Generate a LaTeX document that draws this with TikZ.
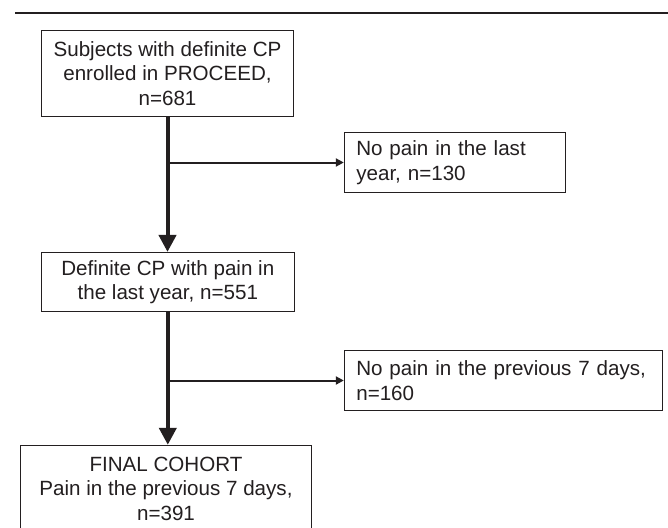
\documentclass[tikz,border=0pt]{standalone}
\usepackage{fontspec}
\setmainfont{Liberation Sans}
\usetikzlibrary{arrows.meta}
\definecolor{ink}{HTML}{231F20}
\begin{document}
\begin{tikzpicture}[x=1pt,y=-1pt,
  box/.style={draw=ink, line width=1pt, fill=white, inner ysep=0pt,
    text=ink, font=\fontsize{20.6}{24.5}\selectfont},
  cbox/.style={box, align=center, inner xsep=0pt},
  lbox/.style={box, align=left, inner xsep=12pt},
  mainarrow/.style={draw=ink, line width=4pt, -{Triangle[width=17pt,length=17pt]}},
  sidearrow/.style={draw=ink, line width=2pt, -{Triangle[width=8pt,length=8pt]}},
  rule/.style={draw=ink, line width=2.5pt}]
\useasboundingbox (0,0) rectangle (668,527);
\clip (0,0) rectangle (668,527);
\fill[white] (0,0) rectangle (668,527);
% top rule
\coordinate (ruleL) at (15,13);
\coordinate (ruleR) at (668,13);
\draw[rule] (ruleL) -- (ruleR);
% boxes
\node[cbox, minimum width=252pt, minimum height=85.3pt] (b1) at (167.5,73.4)
  {Subjects with definite CP\\enrolled in PROCEED,\\n=681};
\node[cbox, minimum width=253pt, minimum height=59.5pt] (b2) at (167.8,282.2)
  {Definite CP with pain in\\the last year, n=551};
\node[cbox, minimum width=290.6pt, minimum height=86.4pt] (b3) at (166,488.5)
  {FINAL COHORT\\Pain in the previous 7 days,\\n=391};
\node[lbox, text width=197.4pt, minimum height=59.6pt] (n1) at (455,162.5)
  {No pain in the last\\year, n=130};
\node[lbox, text width=294.4pt, minimum height=59.6pt] (n2) at (503.5,380.5)
  {No pain in the previous 7 days,\\n=160};
% connectors
\draw[mainarrow] (b1.south) -- (b1.south |- b2.north);
\draw[mainarrow] (b2.south) -- (b2.south |- b3.north);
\draw[sidearrow] (b1.south |- n1.west) -- (n1.west);
\draw[sidearrow] (b2.south |- n2.west) -- (n2.west);
\end{tikzpicture}
\end{document}
